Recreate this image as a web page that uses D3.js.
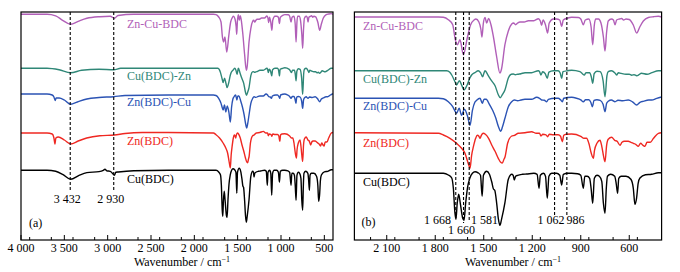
<!DOCTYPE html>
<html>
<head>
<meta charset="utf-8">
<script src="https://cdn.jsdelivr.net/npm/d3@7"></script>
<style>
body { margin: 0; background: #fff; }
svg { display: block; font-family: "Liberation Serif", "Times New Roman", serif; }
</style>
</head>
<body>
<svg id="chart" width="680" height="272"></svg>
<script>
// FT-IR spectra: [wavenumber (cm-1), relative transmittance (a.u., 0 = baseline)]
const znCuBdc = [[4000,0],[3700,0],[3600,-1.5],[3520,-6],[3427,-10],[3340,-7],[3240,-4],[3090,-2.4],[2970,-2],[2923,-4],[2880,-1.2],[2700,0],
  [1780,0],[1750,-0.3],[1719,-2.7],[1692,-7.7],[1676,-22.7],[1663,-27.7],[1647,-22.7],[1626,-37.7],[1602,-21],[1581,-7.7],[1560,-3],[1548,-2],
  [1530,-5],[1518,-12],[1511,-20],[1503,-7],[1492,-0.5],[1482,-6],[1470,-1.5],[1455,-8],[1440,-20],[1420,-40],[1400,-56],[1390,-52],
  [1369,-27.7],[1348,-14],[1327,-7],[1315,-6],[1303,-7.7],[1290,-6],[1276,-5],[1250,-5],[1224,-3.7],[1190,-3.7],[1162,-1.7],[1150,-4],
  [1142,-8.3],[1133,-3],[1118,-8],[1105,-16],[1095,-6],[1070,-2],[1050,-2],[1030,-3],[1018,-9.3],[1008,-3],[980,-1],[956,-0.3],[915,-0.5],
  [900,-2],[884,-7.7],[872,-3],[850,-2],[836,-10],[826,-27.7],[816,-8],[808,-2],[790,-2],[775,-6],[760,-20],[750,-34],[740,-15],[730,-4],
  [710,-2],[698,-3],[688,-7.7],[678,-3],[660,-2],[647,-1.5],[635,-3],[620,-2],[600,-2.5],[575,-8],[554,-16],[535,-10],[513,-4],[482,-0.5],
  [450,0.3],[420,0.7],[400,0]];

const cuBdcZn = [[4000,0],[3700,0],[3560,-1.5],[3427,-4.4],[3300,-2],[3100,-1],[2930,-1.5],[2850,0],
  [1780,0],[1729,0],[1710,-1.5],[1698,-4.3],[1678,-11],[1668,-14.3],[1651,-10],[1635,-15],[1622,-19.3],[1602,-14],[1585,-7],[1575,-4.3],
  [1555,-2],[1534,0],[1520,-2],[1507,-6],[1500,-3],[1492,0],[1472,-5],[1452,-10],[1430,-15],[1410,-24],[1398,-27],[1385,-24],[1369,-19.3],
  [1348,-7.3],[1330,-3.5],[1317,-3.3],[1305,-4],[1290,-3.5],[1270,-3],[1245,-2],[1204,-2],[1162,0],[1155,-1],[1146,-4.3],[1136,-1],
  [1120,-3],[1107,-7.6],[1097,-1.5],[1070,0],[1040,0],[1028,-2],[1018,-7.6],[1010,-1],[980,0],[956,0.5],[905,-1],[890,-3],[878,-4.3],
  [868,-2],[845,-2],[835,-6],[826,-12.6],[817,-3],[800,-0.5],[780,-1],[762,-10],[750,-26],[738,-5],[730,-1],[710,0],[690,-2],[678,-4.3],
  [668,-2],[650,-2.7],[620,-3.5],[600,-3.5],[585,-4.5],[570,-4],[554,-5],[540,-4],[525,-2.5],[490,-3.5],[460,-2],[420,0],[400,0]];

const znBdcCu = [[4000,1],[3700,1],[3640,0],[3620,-2],[3605,-5.5],[3595,-3],[3560,-3],[3500,-5],[3427,-9.3],[3350,-7],[3240,-4],
  [3100,-2.5],[2930,-1.7],[2800,-0.5],[2300,0],
  [1780,0],[1750,-0.5],[1719,-3.4],[1692,-8.4],[1680,-12],[1668,-15],[1652,-10],[1637,-17],[1620,-11],[1600,-18],[1585,-27],[1570,-12],
  [1555,-4],[1544,-2],[1523,0],[1509,-5],[1498,-1],[1485,-1],[1465,-6],[1445,-12],[1425,-20],[1410,-28],[1395,-33],[1385,-29],[1369,-20],
  [1348,-8.4],[1327,-3.4],[1310,-1.7],[1290,-2.4],[1270,-1.7],[1245,-1],[1204,-1],[1173,1],[1155,0],[1142,-1.7],[1125,-2],[1111,-3.4],
  [1100,-1],[1060,0],[1040,0],[1025,-1.5],[1014,-3.4],[1005,0],[956,1],[925,0],[900,-1.5],[884,-3.4],[870,-1.5],[850,-1.5],[838,-4],
  [828,-8.4],[818,-2],[800,-1.5],[780,-2],[762,-6],[750,-13.4],[740,-5],[730,-3],[710,-1.7],[688,-3.4],[670,-2],[640,-2.5],[606,-1.7],
  [580,-3.5],[554,-6.7],[534,-4],[513,-3],[480,-1.7],[461,-1.7],[430,0],[400,1.3]];

const znBdc = [[4000,0],[3700,0],[3640,-1],[3620,-5],[3608,-11],[3598,-5],[3570,-4],[3500,-7],[3427,-11],[3340,-8],[3242,-5],[3090,-2.7],
  [2923,-2],[2800,-0.5],[2600,0.5],[2300,0.5],
  [1780,0],[1750,-1.7],[1709,-5],[1668,-10],[1637,-15],[1616,-20],[1600,-28],[1590,-33],[1585,-35],[1575,-22],[1564,-13.4],[1550,-5],
  [1540,-2],[1530,-3],[1523,-5],[1515,-2],[1503,0],[1490,-1],[1470,-5],[1450,-12],[1430,-18],[1410,-25],[1395,-29],[1385,-29.7],
  [1375,-26],[1369,-24],[1352,-9.7],[1327,-2.7],[1310,-2],[1286,0],[1245,0.5],[1204,1.6],[1175,0],[1155,0],[1146,-2.7],[1135,-1],
  [1115,-1.5],[1105,-3.4],[1095,-1],[1070,-1.5],[1040,-1.5],[1025,-3],[1014,-8.4],[1005,-2],[990,-1],[956,-0.7],[900,-3],[880,-5],
  [864,-5],[850,-10],[835,-20],[822,-25],[815,-17],[800,-10],[781,-7],[770,-13],[760,-22],[750,-28.4],[740,-12],[730,-6],[709,-4],
  [690,-7],[675,-8],[657,-12],[645,-9],[630,-8],[606,-8],[590,-9],[575,-10],[560,-11],[544,-13],[530,-10],[515,-12],[503,-13],
  [490,-9],[470,-9],[450,-5],[420,0],[400,0.5]];

const cuBdc = [[4000,0],[3700,0],[3600,-1],[3520,-4],[3427,-9],[3330,-5],[3240,-2.3],[3100,-1.3],[3050,0],[3031,1],[3010,-0.5],[2970,-1],
  [2945,-3],[2923,-5],[2905,-2],[2877,-1.7],[2700,-0.5],[2300,0],
  [1780,0],[1750,0],[1719,-1.7],[1698,-4.7],[1688,-15],[1678,-40],[1672,-46],[1664,-30],[1655,-21],[1645,-30],[1630,-45],[1622,-47],
  [1612,-30],[1600,-14],[1585,-4.4],[1570,0],[1554,1.5],[1535,0.5],[1520,-2],[1510,-23],[1502,-2],[1482,2],[1465,-1],[1450,-9],
  [1440,-15.7],[1432,-17],[1420,-30],[1410,-45],[1400,-52],[1390,-46],[1369,-29.4],[1348,-6],[1327,-1],[1318,-2],[1311,-6.7],[1303,-3],
  [1290,-2],[1260,-1],[1235,-0.7],[1190,0],[1170,-1],[1158,-15],[1150,-2],[1130,0],[1118,-3],[1107,-25],[1097,-3],[1080,0],[1050,0],
  [1030,-2],[1018,-11.7],[1008,-1],[980,0],[956,0],[920,-0.5],[900,-2],[884,-15],[875,-3],[860,-3],[845,-5],[836,-15],[826,-30],
  [816,-5],[800,-2],[785,-3],[770,-8],[760,-30],[750,-40],[742,-15],[735,-3],[715,-1],[690,-3],[681,-10],[672,-20],[665,-5],[650,-3],
  [620,-3],[590,-6],[575,-15],[565,-31],[555,-25],[545,-10],[534,-4.7],[500,-1.5],[462,-1],[420,0.6],[400,0.6]];

const seriesNames = ["Zn-Cu-BDC", "Cu(BDC)-Zn", "Zn(BDC)-Cu", "Zn(BDC)", "Cu(BDC)"];
const seriesData = [znCuBdc, cuBdcZn, znBdcCu, znBdc, cuBdc];
const colors = ["#b15fb8", "#2f8777", "#2b53b4", "#ef2822", "#000000"];

const ticksA = [4000, 3500, 3000, 2500, 2000, 1500, 1000, 500];
const ticksB = [2100, 1800, 1500, 1200, 900, 600];

// marked bands
const marksA = [3432, 2930];
const markLabelsA = ["3 432", "2 930"];
const marksB = [1673, 1625, 1590, 1062, 986];
const markLabelsB = ["1 668", "1 660", "1 581", "1 062", "986"];

const fmt = d3.formatLocale({decimal: ".", thousands: " ", grouping: [3], currency: ["", ""]}).format(",");

const svg = d3.select("#chart");
const plotTop = 12, plotBottom = 240;
const fs = "12px";
const y = d3.scaleLinear().domain([0, 228]).range([plotBottom, plotTop]);

const panels = [
  {name: "a", left: 21, right: 333, domain: [4000, 400], ticks: ticksA, minorStep: 250,
   offsets: [225.7, 171.7, 145, 107, 69.7], labelX: 127, labelY: [28, 80, 106, 145, 183],
   marks: marksA, markBottom: [192, 192]},
  {name: "b", left: 354.4, right: 661.6, domain: [2300, 400], ticks: ticksB, minorStep: 150,
   offsets: [223, 169.3, 141.7, 106.7, 66.7], labelX: 363, labelY: [30, 83, 110, 147, 186],
   marks: marksB, markBottom: [218, 223, 220, 215, 215]}
];

panels.forEach(p => {
  const x = d3.scaleLinear().domain(p.domain).range([p.left, p.right]);
  const g = svg.append("g");

  g.append("clipPath").attr("id", "clip-" + p.name)
    .append("rect").attr("x", p.left).attr("y", plotTop).attr("width", p.right - p.left).attr("height", plotBottom - plotTop);

  // spectra
  const line = d3.line()
    .x(d => x(d[0]))
    .y(d => y(d[1] + d.off))
    .curve(d3.curveMonotoneX);

  seriesData.forEach((s, i) => {
    const pts = s.map(d => { const q = [d[0], d[1]]; q.off = p.offsets[i]; return q; });
    g.append("path")
      .attr("clip-path", "url(#clip-" + p.name + ")")
      .attr("d", line(pts))
      .attr("fill", "none")
      .attr("stroke", colors[i])
      .attr("stroke-width", 1.4)
      .attr("stroke-linejoin", "round");

    g.append("text")
      .attr("x", p.labelX).attr("y", p.labelY[i])
      .attr("fill", colors[i])
      .attr("font-size", fs)
      .text(seriesNames[i]);
  });

  // dashed markers
  g.selectAll(".mark").data(p.marks).enter().append("line")
    .attr("x1", d => x(d)).attr("x2", d => x(d))
    .attr("y1", plotTop).attr("y2", (d, i) => p.markBottom[i])
    .attr("stroke", "#000").attr("stroke-width", 1.1)
    .attr("stroke-dasharray", "3,2");

  // frame
  g.append("rect")
    .attr("x", p.left).attr("y", plotTop)
    .attr("width", p.right - p.left).attr("height", plotBottom - plotTop)
    .attr("fill", "none").attr("stroke", "#000").attr("stroke-width", 1.2);

  // bottom axis, ticks inward
  const minor = d3.range(p.domain[1], p.domain[0] + 1, p.minorStep)
    .filter(v => v > p.domain[1] && v < p.domain[0] && !p.ticks.includes(v));
  g.selectAll(".minor").data(minor).enter().append("line")
    .attr("x1", d => x(d)).attr("x2", d => x(d))
    .attr("y1", plotBottom).attr("y2", plotBottom - 3)
    .attr("stroke", "#000").attr("stroke-width", 1);
  g.selectAll(".major").data(p.ticks).enter().append("line")
    .attr("x1", d => x(d)).attr("x2", d => x(d))
    .attr("y1", plotBottom).attr("y2", plotBottom - 5)
    .attr("stroke", "#000").attr("stroke-width", 1);
  g.selectAll(".tl").data(p.ticks).enter().append("text")
    .attr("x", d => x(d)).attr("y", 251.5)
    .attr("text-anchor", "middle").attr("font-size", fs)
    .text(d => fmt(d));

  const title = g.append("text")
    .attr("x", (p.left + p.right) / 2 + 5).attr("y", 265.5)
    .attr("text-anchor", "middle").attr("font-size", fs)
    .text("Wavenumber / cm");
  title.append("tspan").attr("dy", -4).attr("font-size", "8px").text("\u22121");
});

// annotations, panel (a)
const xa = d3.scaleLinear().domain([4000, 400]).range([21, 333]);
svg.selectAll(".annA").data(markLabelsA).enter().append("text")
  .attr("x", (d, i) => xa(marksA[i]) - 3).attr("y", 203)
  .attr("text-anchor", "middle").attr("font-size", fs)
  .text(d => d);
svg.append("text").attr("x", 29).attr("y", 227).attr("font-size", fs).text("(a)");

// annotations, panel (b)
const bPos = [
  {x: 451, y: 224, anchor: "end"},
  {x: 461.5, y: 233.5, anchor: "middle"},
  {x: 471, y: 224, anchor: "start"},
  {x: 564.5, y: 224, anchor: "end"},
  {x: 566.5, y: 224, anchor: "start"}
];
svg.selectAll(".annB").data(markLabelsB).enter().append("text")
  .attr("x", (d, i) => bPos[i].x).attr("y", (d, i) => bPos[i].y)
  .attr("text-anchor", (d, i) => bPos[i].anchor).attr("font-size", fs)
  .text(d => d);
svg.append("text").attr("x", 361.5).attr("y", 226).attr("font-size", fs).text("(b)");
</script>
</body>
</html>
